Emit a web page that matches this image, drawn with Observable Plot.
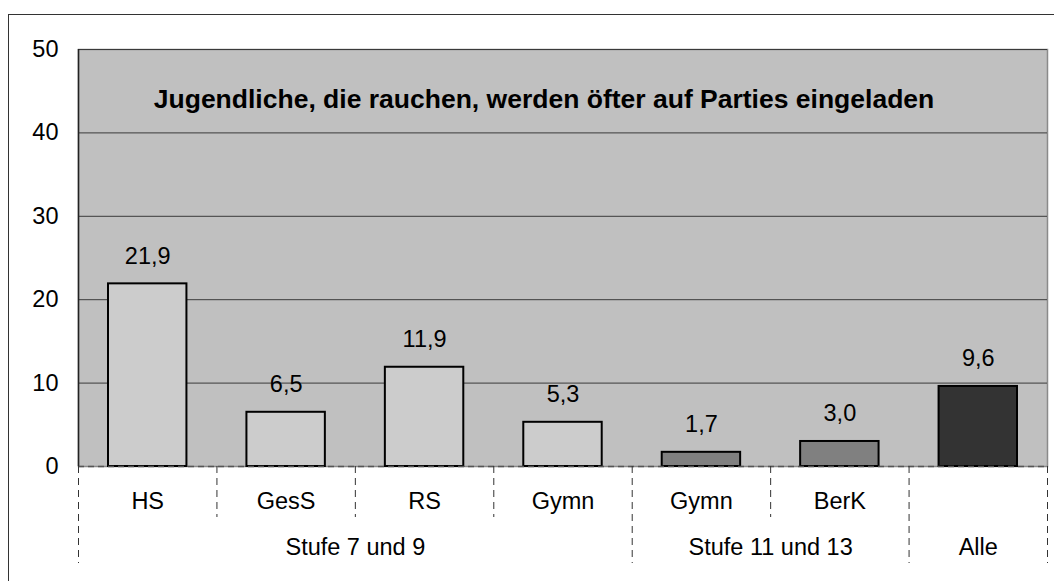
<!DOCTYPE html>
<html><head><meta charset="utf-8">
<script src="https://cdn.jsdelivr.net/npm/d3@7"></script>
<script src="https://cdn.jsdelivr.net/npm/@observablehq/plot@0.6"></script>
<style>
body{margin:0;background:#fff;overflow:hidden;}
#border{position:absolute;left:8px;top:14px;width:1200px;height:800px;border:1.5px solid #333;box-sizing:border-box}
#chart{position:absolute;left:0;top:0}
</style></head><body><div id="border"></div><div id="chart"></div>
<script>
const categories = ["HS","GesS","RS","Gymn","Gymn","BerK",""];
const values = [21.9,6.5,11.9,5.3,1.7,3.0,9.6];
const tiers = ["light","light","light","light","mid","mid","dark"];
const groups = ["Stufe 7 und 9","Stufe 11 und 13","Alle"];
const groupStart = [0,4,6];
const groupEnd = [4,6,7];
const yTicks = [0,10,20,30,40,50];
const title = "Jugendliche, die rauchen, werden öfter auf Parties eingeladen";

const bars = categories.map((c,i)=>({i, c, v: values[i], tier: tiers[i]}));
const fmt = v => v.toFixed(1).replace(".", ",");
const catCenters = categories.map((c,i)=>i+0.5);
const groupCenters = groups.map((g,j)=>(groupStart[j]+groupEnd[j])/2);
const outerBounds = [...new Set([...groupStart, ...groupEnd])];
const innerBounds = d3.range(1, categories.length).filter(b=>!outerBounds.includes(b));
const font = "'Liberation Sans', Arial, sans-serif";
const fs = 23.5;

const chart = Plot.plot({
  width: 1054, height: 581,
  marginLeft: 78, marginRight: 7, marginTop: 49, marginBottom: 115,
  style: {fontFamily: font, fontSize: fs + "px", color: "#000", background: "transparent", overflow: "visible"},
  x: {type: "linear", domain: [0, categories.length], axis: null},
  y: {domain: [0, 50], axis: null},
  color: {domain: ["light","mid","dark"], range: ["#cccccc","#808080","#333333"]},
  marks: [
    Plot.frame({fill: "#c0c0c0", stroke: "#8a8a8a", strokeWidth: 1.5}),
    Plot.ruleY(yTicks.filter(d=>d>0), {stroke: "#3a3a3a", strokeWidth: 1}),
    Plot.rectY(bars, {x1: "i", x2: d=>d.i+1, y: "v", fill: "tier", stroke: "#000", strokeWidth: 2, insetLeft: 30, insetRight: 30}),
    Plot.ruleY([0], {stroke: "#555", strokeDasharray: "6,4", strokeWidth: 1.5}),
    Plot.ruleX([0], {stroke: "#222", strokeWidth: 1.5}),
    Plot.axisY({ticks: yTicks, tickSize: 0, tickPadding: 20, fontSize: fs, label: null}),
    Plot.text(bars, {x: d=>d.i+0.5, y: "v", text: d=>fmt(d.v), dy: -20, lineAnchor: "bottom", fontSize: fs}),
    Plot.text([title], {frameAnchor: "top", dx: -19, dy: 40, fontWeight: "bold", fontSize: 26.5}),
    Plot.axisX({ticks: innerBounds, tickSize: 51, tickFormat: () => "", stroke: "#333", strokeDasharray: "7,5", label: null}),
    Plot.axisX({ticks: outerBounds, tickSize: 97, tickFormat: () => "", stroke: "#333", strokeDasharray: "7,5", label: null}),
    Plot.axisX({ticks: catCenters, tickSize: 0, tickPadding: 26, fontSize: fs, tickFormat: d => categories[catCenters.indexOf(d)], label: null}),
    Plot.axisX({ticks: groupCenters, tickSize: 0, tickPadding: 72, fontSize: fs, tickFormat: d => groups[groupCenters.indexOf(d)], label: null})
  ]
});
document.getElementById("chart").appendChild(chart);
</script></body></html>
